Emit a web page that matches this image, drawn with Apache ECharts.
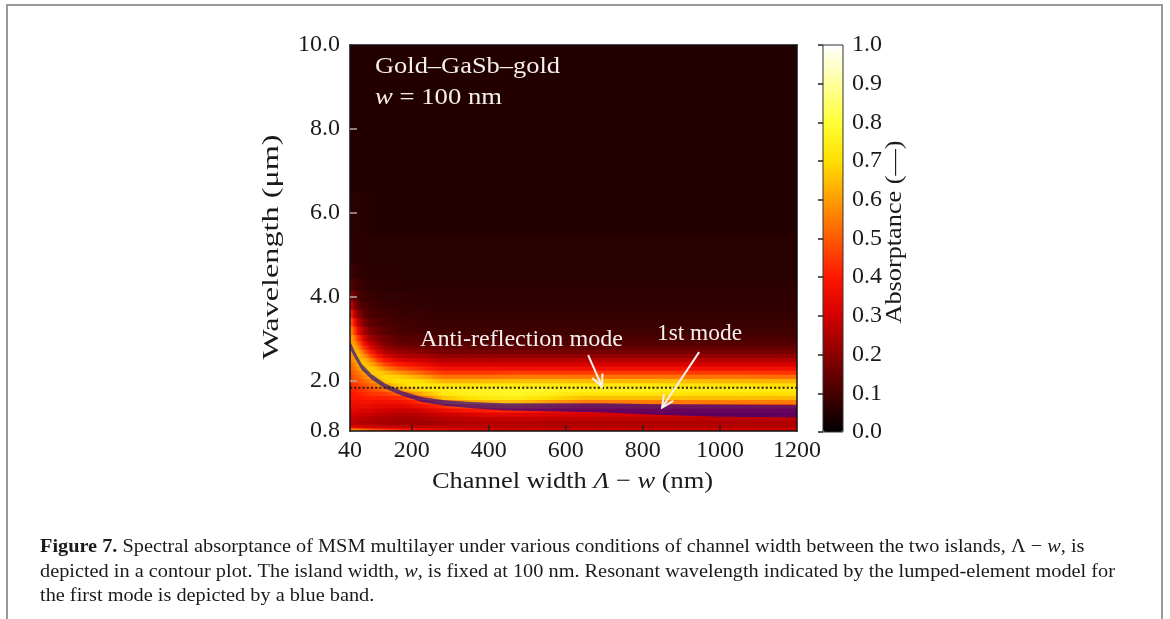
<!DOCTYPE html>
<html>
<head>
<meta charset="utf-8">
<script src="https://cdn.jsdelivr.net/npm/echarts@6/dist/echarts.min.js"></script>
<style>
html,body{margin:0;padding:0;background:#fff;}
#chart{width:1170px;height:619px;}
</style>
</head>
<body>
<div id="chart"></div>
<script>
// ---------------- DATA ----------------
// channel width samples (nm), one absorptance column per entry
const channelWidths = [40, 50, 60, 75, 90, 110, 130, 160, 190, 230, 280, 340, 400, 470, 550, 650, 750, 850, 950, 1050, 1150, 1200];
// wavelength samples (um)
const wavelengths = [0.8, 0.85, 0.9, 1.0, 1.1, 1.2, 1.3, 1.4, 1.5, 1.6, 1.7, 1.8, 1.9, 2.0, 2.1, 2.2, 2.3, 2.4, 2.5, 2.6, 2.7, 2.8, 2.9, 3.0, 3.2, 3.4, 3.6, 3.8, 4.0, 4.3, 4.6, 5.0, 6.0, 7.0, 8.0, 9.0, 10.0];
// absorptance, one array per channel width, values along wavelengths
const absorptance = [
  /* 40 */  [0.68,0.56,0.33, 0.27,0.28,0.31,0.34,0.36,0.38,0.39,0.40,0.41,0.43, 0.45,0.47,0.49,0.51,0.53,0.55,0.56,0.57,0.58,0.59,0.60, 0.59,0.53,0.44,0.33,0.23, 0.13,0.09,0.07, 0.06,0.05,0.05,0.05,0.05],
  /* 50 */  [0.68,0.55,0.33, 0.27,0.28,0.31,0.33,0.35,0.37,0.39,0.40,0.42,0.44, 0.47,0.49,0.51,0.53,0.55,0.58,0.61,0.63,0.63,0.61,0.57, 0.49,0.40,0.30,0.21,0.15, 0.10,0.08,0.065, 0.055,0.05,0.05,0.05,0.05],
  /* 60 */  [0.66,0.54,0.32, 0.26,0.27,0.30,0.33,0.35,0.37,0.39,0.41,0.43,0.45, 0.48,0.51,0.54,0.57,0.61,0.64,0.65,0.63,0.58,0.52,0.45, 0.36,0.28,0.21,0.15,0.11, 0.085,0.07,0.06, 0.055,0.05,0.05,0.05,0.05],
  /* 75 */  [0.63,0.51,0.31, 0.25,0.26,0.29,0.32,0.35,0.38,0.40,0.42,0.45,0.48, 0.52,0.55,0.59,0.63,0.66,0.65,0.60,0.53,0.45,0.38,0.32, 0.25,0.19,0.14,0.11,0.09, 0.075,0.065,0.06, 0.055,0.05,0.05,0.05,0.05],
  /* 90 */  [0.60,0.49,0.30, 0.25,0.26,0.29,0.32,0.35,0.38,0.41,0.44,0.47,0.51, 0.55,0.60,0.65,0.67,0.64,0.58,0.50,0.42,0.35,0.29,0.24, 0.18,0.14,0.11,0.095,0.08, 0.07,0.06,0.055, 0.05,0.05,0.05,0.05,0.05],
  /* 110 */ [0.57,0.46,0.29, 0.24,0.25,0.28,0.31,0.34,0.37,0.41,0.45,0.50,0.55, 0.61,0.66,0.68,0.64,0.56,0.47,0.39,0.32,0.27,0.23,0.19, 0.15,0.12,0.10,0.085,0.075, 0.065,0.06,0.055, 0.05,0.05,0.05,0.05,0.05],
  /* 130 */ [0.54,0.44,0.29, 0.24,0.25,0.27,0.30,0.33,0.37,0.41,0.46,0.53,0.60, 0.67,0.69,0.65,0.57,0.47,0.39,0.32,0.26,0.22,0.18,0.16, 0.13,0.11,0.095,0.08,0.07, 0.065,0.06,0.055, 0.05,0.05,0.05,0.05,0.05],
  /* 160 */ [0.50,0.41,0.28, 0.23,0.24,0.26,0.29,0.33,0.37,0.42,0.50,0.59,0.66, 0.70,0.68,0.60,0.50,0.41,0.33,0.27,0.22,0.18,0.15,0.13, 0.11,0.095,0.085,0.075,0.07, 0.06,0.055,0.055, 0.05,0.05,0.05,0.05,0.05],
  /* 190 */ [0.47,0.39,0.28, 0.23,0.24,0.26,0.29,0.34,0.39,0.45,0.55,0.64,0.70, 0.71,0.65,0.56,0.46,0.38,0.31,0.25,0.21,0.17,0.14,0.12, 0.10,0.09,0.08,0.075,0.07, 0.06,0.055,0.055, 0.05,0.05,0.05,0.05,0.05],
  /* 230 */ [0.44,0.37,0.27, 0.23,0.24,0.27,0.31,0.37,0.44,0.53,0.63,0.70,0.73, 0.69,0.61,0.51,0.42,0.35,0.29,0.24,0.19,0.16,0.135,0.115, 0.095,0.085,0.08,0.07,0.065, 0.06,0.055,0.055, 0.05,0.05,0.05,0.05,0.05],
  /* 280 */ [0.41,0.35,0.27, 0.24,0.26,0.29,0.35,0.43,0.54,0.65,0.72,0.74,0.71, 0.63,0.54,0.45,0.37,0.31,0.26,0.21,0.17,0.145,0.125,0.11, 0.09,0.08,0.075,0.07,0.065, 0.06,0.055,0.055, 0.05,0.05,0.05,0.05,0.05],
  /* 340 */ [0.39,0.33,0.27, 0.25,0.27,0.31,0.39,0.49,0.61,0.70,0.75,0.75,0.71, 0.63,0.54,0.45,0.37,0.31,0.26,0.21,0.17,0.14,0.12,0.105, 0.09,0.08,0.075,0.07,0.065, 0.06,0.055,0.055, 0.05,0.05,0.05,0.05,0.05],
  /* 400 */ [0.38,0.32,0.27, 0.26,0.28,0.33,0.41,0.52,0.64,0.73,0.76,0.76,0.72, 0.64,0.54,0.45,0.37,0.31,0.26,0.21,0.17,0.14,0.12,0.105, 0.09,0.08,0.075,0.07,0.065, 0.06,0.055,0.055, 0.05,0.05,0.05,0.05,0.05],
  /* 470 */ [0.37,0.31,0.26, 0.26,0.28,0.33,0.42,0.53,0.65,0.74,0.77,0.77,0.73, 0.65,0.55,0.46,0.37,0.31,0.26,0.21,0.17,0.14,0.12,0.105, 0.09,0.08,0.075,0.07,0.065, 0.06,0.055,0.055, 0.05,0.05,0.05,0.05,0.05],
  /* 550 */ [0.36,0.30,0.26, 0.25,0.28,0.32,0.39,0.49,0.60,0.70,0.75,0.77,0.73, 0.65,0.55,0.45,0.37,0.31,0.26,0.21,0.17,0.14,0.12,0.105, 0.09,0.08,0.075,0.07,0.065, 0.06,0.055,0.055, 0.05,0.05,0.05,0.05,0.05],
  /* 650 */ [0.36,0.30,0.26, 0.25,0.27,0.31,0.37,0.45,0.55,0.65,0.72,0.75,0.72, 0.64,0.54,0.45,0.37,0.31,0.26,0.21,0.17,0.14,0.12,0.105, 0.09,0.08,0.075,0.07,0.065, 0.06,0.055,0.055, 0.05,0.05,0.05,0.05,0.05],
  /* 750 */ [0.36,0.30,0.26, 0.25,0.27,0.31,0.37,0.45,0.55,0.65,0.72,0.75,0.72, 0.64,0.54,0.45,0.37,0.31,0.26,0.21,0.17,0.14,0.12,0.105, 0.09,0.08,0.075,0.07,0.065, 0.06,0.055,0.055, 0.05,0.05,0.05,0.05,0.05],
  /* 850 */ [0.36,0.30,0.26, 0.25,0.27,0.31,0.37,0.45,0.55,0.65,0.72,0.75,0.72, 0.64,0.54,0.45,0.37,0.31,0.26,0.21,0.17,0.14,0.12,0.105, 0.09,0.08,0.075,0.07,0.065, 0.06,0.055,0.055, 0.05,0.05,0.05,0.05,0.05],
  /* 950 */ [0.36,0.30,0.26, 0.25,0.27,0.31,0.37,0.45,0.55,0.65,0.71,0.74,0.71, 0.64,0.54,0.45,0.37,0.31,0.26,0.21,0.17,0.14,0.12,0.105, 0.09,0.08,0.075,0.07,0.065, 0.06,0.055,0.055, 0.05,0.05,0.05,0.05,0.05],
  /* 1050 */[0.36,0.30,0.26, 0.25,0.27,0.31,0.37,0.45,0.55,0.65,0.71,0.74,0.71, 0.63,0.54,0.45,0.37,0.31,0.26,0.21,0.17,0.14,0.12,0.105, 0.09,0.08,0.075,0.07,0.065, 0.06,0.055,0.055, 0.05,0.05,0.05,0.05,0.05],
  /* 1150 */[0.36,0.30,0.26, 0.25,0.27,0.31,0.37,0.45,0.55,0.64,0.70,0.73,0.70, 0.63,0.53,0.44,0.37,0.31,0.26,0.21,0.17,0.14,0.12,0.105, 0.09,0.08,0.075,0.07,0.065, 0.06,0.055,0.055, 0.05,0.05,0.05,0.05,0.05],
  /* 1200 */[0.36,0.30,0.26, 0.25,0.27,0.31,0.37,0.45,0.55,0.64,0.70,0.73,0.70, 0.63,0.53,0.44,0.37,0.31,0.26,0.21,0.17,0.14,0.12,0.105, 0.09,0.08,0.075,0.07,0.065, 0.06,0.055,0.055, 0.05,0.05,0.05,0.05,0.05]
];
// first-mode resonance (lumped-element model), blue band limits (um)
const bandChannelWidths = [40, 53, 70, 96, 131, 174, 226, 286, 356, 442, 550, 700, 850, 1000, 1200];
const bandLower = [2.76, 2.53, 2.26, 2.03, 1.81, 1.645, 1.49, 1.40, 1.34, 1.29, 1.27, 1.24, 1.18, 1.14, 1.13];
const bandUpper = [2.94, 2.69, 2.40, 2.15, 1.93, 1.755, 1.61, 1.53, 1.49, 1.46, 1.46, 1.46, 1.44, 1.43, 1.42];
// anti-reflection mode wavelength (dotted line, um)
const antiReflectionWavelength = 1.83;
// annotation arrows: [tail x, tail wavelength, head x, head wavelength]
const arrowAnnotations = [
  [658, 2.61, 694, 1.86],
  [946, 2.68, 850, 1.36]
];
// tick labels
const xTickValues = [40, 200, 400, 600, 800, 1000, 1200];
const yTickValues = [0.8, 2, 4, 6, 8, 10];
const colorbarTicks = [0, 0.1, 0.2, 0.3, 0.4, 0.5, 0.6, 0.7, 0.8, 0.9, 1.0];

// ---------------- BUILD ----------------
const SERIF = 'Liberation Serif';
const hotColormap = ['#000000','#460000','#8c0000','#d20000','#ff1700','#ff5a00','#ff9d00','#ffe000','#ffff36','#ffff9b','#ffffff'];

function cellEdges(arr, i) {
  const lo = i === 0 ? arr[0] : (arr[i - 1] + arr[i]) / 2;
  const hi = i === arr.length - 1 ? arr[i] : (arr[i] + arr[i + 1]) / 2;
  return [lo, hi];
}
const nRows = wavelengths.length;
const cells = [];
channelWidths.forEach((x, i) => {
  const xNext = i < channelWidths.length - 1 ? channelWidths[i + 1] : x;
  wavelengths.forEach((v, j) => {
    const [v0, v1] = cellEdges(wavelengths, j);
    cells.push([x, v, absorptance[i][j], xNext, v0, v1]);
  });
});

const mctx = document.createElement('canvas').getContext('2d');
function measure(parts, size) {
  let w = 0;
  parts.forEach(p => {
    mctx.font = (p.i ? 'italic ' : '') + (p.b ? 'bold ' : '') + size + 'px "' + SERIF + '"';
    w += mctx.measureText(p.t).width;
  });
  return w;
}
function richString(parts) {
  return parts.map(p => '{' + (p.b ? 'b' : (p.i ? 'i' : 'n')) + '|' + p.t + '}').join('');
}
function textEl(parts, o) {
  const size = o.size;
  const sx = o.scale !== undefined ? o.scale : (o.width ? o.width / measure(parts, size) : 1);
  const base = { fontSize: size, fontFamily: SERIF, fill: o.color, color: o.color };
  return {
    type: 'text', x: o.x, y: o.y, rotation: o.rotation || 0, scaleX: sx, silent: true, z: 100,
    style: {
      text: richString(parts), fill: o.color, fontSize: size, fontFamily: SERIF,
      font: size + 'px "' + SERIF + '"',
      align: o.align, verticalAlign: 'middle', textAlign: o.align, textVerticalAlign: 'middle',
      rich: {
        n: Object.assign({}, base),
        i: Object.assign({ fontStyle: 'italic' }, base),
        b: Object.assign({ fontWeight: 'bold' }, base)
      }
    }
  };
}

const cap1 = [{t:'Figure 7.', b:true}, {t:' Spectral absorptance of MSM multilayer under various conditions of channel width between the two islands, \u039B \u2212 '}, {t:'w', i:true}, {t:', is'}];
const cap2 = [{t:'depicted in a contour plot. The island width, '}, {t:'w', i:true}, {t:', is fixed at 100 nm. Resonant wavelength indicated by the lumped-element model for'}];
const cap3 = [{t:'the first mode is depicted by a blue band.'}];
const capSize = 19;
const capScale = 1075 / measure(cap2, capSize);

const graphics = [
  { type: 'polyline', silent: true, z: 100, shape: { points: [[7, 619], [7, 5], [1162, 5], [1162, 619]] }, style: { stroke: '#9a9a9a', lineWidth: 2, fill: null } },
  textEl([{t:'Gold\u2013GaSb\u2013gold'}], { x: 375, y: 67, size: 23, width: 185, color: '#f4f0ee', align: 'left' }),
  textEl([{t:'w', i:true}, {t:' = 100 nm'}], { x: 375, y: 98, size: 23, width: 127, color: '#f4f0ee', align: 'left' }),
  textEl([{t:'Anti-reflection mode'}], { x: 420, y: 340, size: 23, width: 203, color: '#f4f0ee', align: 'left' }),
  textEl([{t:'1st mode'}], { x: 657, y: 334, size: 23, width: 85, color: '#f4f0ee', align: 'left' }),
  textEl([{t:'Channel width '}, {t:'\u039B', i:true}, {t:' \u2212 '}, {t:'w', i:true}, {t:' (nm)'}], { x: 432, y: 482, size: 24, width: 281, color: '#1a1a1a', align: 'left' }),
  textEl([{t:'Wavelength (\u03BCm)'}], { x: 272, y: 247, size: 24, width: 225, color: '#1a1a1a', align: 'center', rotation: Math.PI / 2 }),
  textEl([{t:'Absorptance (\u2014)'}], { x: 895, y: 232, size: 23, width: 183, color: '#1a1a1a', align: 'center', rotation: Math.PI / 2 }),
  textEl(cap1, { x: 40, y: 547, size: capSize, scale: capScale, color: '#1a1a1a', align: 'left' }),
  textEl(cap2, { x: 40, y: 572, size: capSize, scale: capScale, color: '#1a1a1a', align: 'left' }),
  textEl(cap3, { x: 40, y: 596, size: capSize, scale: capScale, color: '#1a1a1a', align: 'left' })
];

const labelStyle = { fontFamily: SERIF, fontSize: 24, color: '#1a1a1a' };
const frameLine = { show: true, lineStyle: { color: '#111', width: 1.5 } };

const option = {
  backgroundColor: '#ffffff',
  animation: false,
  grid: [
    { left: 350, top: 45, width: 447, height: 386, containLabel: false },
    { left: 823, top: 45, width: 20, height: 387, show: true, borderColor: '#333', borderWidth: 1, backgroundColor: 'rgba(0,0,0,0)', z: 10 }
  ],
  xAxis: [
    { type: 'value', gridIndex: 0, min: 40, max: 1200, z: 10,
      axisLine: frameLine,
      axisTick: { show: true, inside: true, length: 6, customValues: xTickValues.slice(1, -1), lineStyle: { color: '#222', width: 1.5 } },
      axisLabel: Object.assign({ customValues: xTickValues, margin: 8, formatter: v => String(v) }, labelStyle),
      splitLine: { show: false } },
    { type: 'value', gridIndex: 0, position: 'top', min: 40, max: 1200, z: 10,
      axisLine: frameLine, axisTick: { show: false }, axisLabel: { show: false }, splitLine: { show: false } },
    { type: 'value', gridIndex: 1, min: 0, max: 1, show: false }
  ],
  yAxis: [
    { type: 'value', gridIndex: 0, min: 0.8, max: 10, z: 10,
      axisLine: frameLine,
      axisTick: { show: true, inside: true, length: 7, customValues: yTickValues.slice(1, -1), lineStyle: { color: '#b0a8a8', width: 1.5 } },
      axisLabel: Object.assign({ customValues: yTickValues, margin: 10, formatter: v => Number(v).toFixed(1) }, labelStyle),
      splitLine: { show: false } },
    { type: 'value', gridIndex: 0, position: 'right', min: 0.8, max: 10, z: 10,
      axisLine: frameLine, axisTick: { show: false }, axisLabel: { show: false }, splitLine: { show: false } },
    { type: 'value', gridIndex: 1, position: 'right', min: 0, max: 1, interval: 0.1, z: 11,
      axisLine: { show: false },
      axisTick: { show: true, inside: true, length: 5, customValues: colorbarTicks, lineStyle: { color: '#222', width: 1.5 } },
      axisLabel: Object.assign({ customValues: colorbarTicks, margin: 9, formatter: v => Number(v).toFixed(1) }, labelStyle),
      splitLine: { show: false } }
  ],
  visualMap: {
    type: 'continuous', min: 0, max: 1, seriesIndex: 0, dimension: 2,
    calculable: false, hoverLink: false, show: true, orient: 'vertical',
    left: 823, top: 45, itemWidth: 20, itemHeight: 387, padding: 0, text: null,
    inRange: { color: hotColormap }
  },
  graphic: graphics,
  series: [
    {
      type: 'custom', name: 'Absorptance', xAxisIndex: 0, yAxisIndex: 0, clip: true, silent: true, z: 1,
      dimensions: ['x', 'wavelength', 'absorptance', 'xNext', 'v0', 'v1'],
      encode: { x: 0, y: 1 },
      data: cells,
      renderItem: function (params, api) {
        const x0 = api.value(0), x1 = api.value(3);
        if (!(x1 > x0)) return null;
        const tl = api.coord([x0, api.value(5)]);
        const br = api.coord([x1, api.value(4)]);
        const c0 = api.visual('color');
        const c1 = api.visual('color', params.dataIndexInside + nRows);
        return {
          type: 'rect',
          shape: { x: tl[0] - 0.5, y: tl[1] - 0.5, width: br[0] - tl[0] + 1, height: br[1] - tl[1] + 1 },
          style: { fill: new echarts.graphic.LinearGradient(0, 0, 1, 0, [{ offset: 0, color: c0 }, { offset: 1, color: c1 }]), stroke: null }
        };
      }
    },
    {
      type: 'custom', name: 'First mode band', xAxisIndex: 0, yAxisIndex: 0, clip: true, silent: true, z: 3,
      data: bandChannelWidths.map((x, i) => [x, bandLower[i], bandUpper[i]]),
      encode: { x: 0, y: 1 },
      renderItem: function (params, api) {
        if (params.dataIndex !== 0) return null;
        const pts = [];
        for (let i = 0; i < bandChannelWidths.length; i++) pts.push(api.coord([bandChannelWidths[i], bandUpper[i]]));
        for (let i = bandChannelWidths.length - 1; i >= 0; i--) pts.push(api.coord([bandChannelWidths[i], bandLower[i]]));
        return { type: 'polygon', shape: { points: pts }, style: { fill: 'rgba(25,0,145,0.64)', stroke: null } };
      }
    },
    {
      type: 'line', name: 'Anti-reflection mode', xAxisIndex: 0, yAxisIndex: 0, silent: true, z: 4,
      symbol: 'none', showSymbol: false,
      data: [[channelWidths[0], antiReflectionWavelength], [channelWidths[channelWidths.length - 1], antiReflectionWavelength]],
      lineStyle: { color: '#2a1c08', width: 2, type: [2, 2.2] }
    },
    {
      type: 'custom', name: 'Arrows', xAxisIndex: 0, yAxisIndex: 0, silent: true, z: 5,
      data: arrowAnnotations,
      encode: { x: [0, 2], y: [1, 3] },
      renderItem: function (params, api) {
        const a = api.coord([api.value(0), api.value(1)]);
        const b = api.coord([api.value(2), api.value(3)]);
        const ang = Math.atan2(b[1] - a[1], b[0] - a[0]);
        const L = 13, sp = Math.PI / 7;
        const h1 = [b[0] - L * Math.cos(ang - sp), b[1] - L * Math.sin(ang - sp)];
        const h2 = [b[0] - L * Math.cos(ang + sp), b[1] - L * Math.sin(ang + sp)];
        return {
          type: 'group',
          children: [
            { type: 'line', shape: { x1: a[0], y1: a[1], x2: b[0], y2: b[1] }, style: { stroke: '#f6f2f0', lineWidth: 2 } },
            { type: 'polyline', shape: { points: [h1, b, h2] }, style: { stroke: '#f6f2f0', lineWidth: 2, fill: null } }
          ]
        };
      }
    }
  ]
};

const chart = echarts.init(document.getElementById('chart'), null, { renderer: 'canvas' });
chart.setOption(option);
</script>
</body>
</html>
